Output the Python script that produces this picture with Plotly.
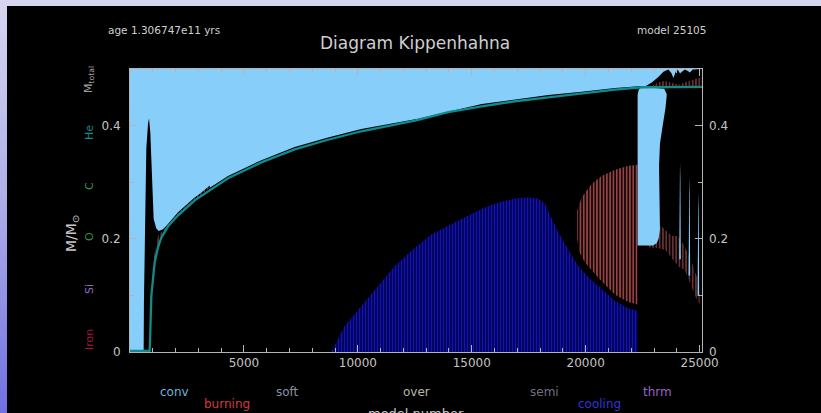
import plotly.graph_objects as go

# ---------------- data ----------------
M_TOTAL = 0.5
MODEL_MAX = 25105
AGE_TEXT = "age 1.306747e11 yrs"
MODEL_TEXT = "model 25105"

# He core boundary (teal line)
he_model = [0, 860, 880, 906, 936, 1010, 1082, 1229, 1375, 1670, 2100, 2840, 4300,
            5765, 7228, 8690, 10150, 12510, 13970, 15440, 16900, 18360, 19825,
            21290, 22460, 25105]
he_mass = [0.002, 0.002, 0.02, 0.058, 0.099, 0.129, 0.158, 0.185, 0.202, 0.222,
           0.241, 0.268, 0.307, 0.335, 0.358, 0.375, 0.390, 0.409, 0.4236, 0.434,
           0.443, 0.450, 0.457, 0.4637, 0.4678, 0.4685]

# lower boundary of the outer convective envelope
env_model = [0, 600, 612, 650, 673, 716, 790, 834, 892, 936, 980, 1039, 1156, 1258,
             1450, 1668, 2107, 2838, 4300, 5765, 7228, 8690, 10153, 12640, 15440,
             18360, 19825, 21290, 22460, 25105]
env_lower = [0.003, 0.003, 0.09, 0.22, 0.30, 0.359, 0.403, 0.413, 0.388, 0.329,
             0.270, 0.235, 0.218, 0.214, 0.217, 0.226, 0.247, 0.273, 0.311, 0.339,
             0.362, 0.379, 0.394, 0.412, 0.438, 0.454, 0.460, 0.4665, 0.470, 0.4705]

# H-shell burning band just above the He core
shell_model = [880, 1010, 1229, 1375, 1670, 2100, 2840, 3500]
shell_lo = [0.02, 0.129, 0.185, 0.202, 0.222, 0.241, 0.268, 0.290]
shell_hi = [0.06, 0.160, 0.205, 0.212, 0.225, 0.245, 0.272, 0.294]

# neutrino cooling region (upper edge, base at 0)
cool_model = [8840, 9420, 10150, 10885, 11620, 12350, 13240, 13970, 14700, 15440,
              16170, 16900, 17480, 17920, 18215, 18510, 18800, 19240, 19680, 20120,
              20550, 21290, 21870, 22280]
cool_top = [0.0, 0.046, 0.081, 0.117, 0.152, 0.179, 0.208, 0.223, 0.238, 0.253,
            0.264, 0.271, 0.273, 0.271, 0.261, 0.235, 0.211, 0.180, 0.152, 0.132,
            0.117, 0.090, 0.077, 0.073]

# He flash burning region
burn_model = [19630, 19820, 20260, 20700, 21290, 21870, 22280]
burn_top = [0.250, 0.273, 0.297, 0.311, 0.322, 0.329, 0.331]
burn_bot_model = [19630, 19700, 19970, 20550, 21290, 21870, 22280]
burn_bot = [0.200, 0.178, 0.158, 0.131, 0.101, 0.0885, 0.084]

# convective blob after the flash
blob_model = [22280, 22330, 22460, 23000, 23450, 23560, 23500, 23380, 23260, 23220,
              23250, 23260, 23200, 23115, 22950, 22280]
blob_mass = [0.455, 0.464, 0.468, 0.467, 0.465, 0.455, 0.430, 0.400, 0.368, 0.329,
             0.270, 0.217, 0.200, 0.192, 0.188, 0.188]

# non-convective bumps at the surface (top right)
bump_model = [22600, 22900, 23190, 23410, 23630, 23760, 23850, 23920, 23990, 24070,
              24140, 24250, 24360, 24500, 24570, 24700, 25105]
bump_mass = [0.469, 0.476, 0.486, 0.495, 0.499, 0.493, 0.484, 0.493, 0.499, 0.497,
             0.492, 0.496, 0.499, 0.496, 0.494, 0.499, 0.500]

# burning stripes under the bumps
sburn_model = [22950, 23200, 23500, 23800, 24100, 24400, 24700, 25105]
sburn_top = [0.471, 0.477, 0.479, 0.476, 0.472, 0.477, 0.481, 0.486]

# later burning patches below the blob
late_model_top = [22700, 23260, 23500, 23800, 24050, 24300, 24600, 24900, 25000]
late_top = [0.188, 0.225, 0.215, 0.205, 0.205, 0.190, 0.165, 0.130, 0.100]
late_model_bot = [25000, 24850, 24600, 24350, 24100, 23800, 23500, 23100, 22700]
late_bot = [0.085, 0.095, 0.120, 0.145, 0.150, 0.165, 0.180, 0.184, 0.185]

# thin convective spikes
spike_model = [24140, 24550, 24945]
spike_top = [0.335, 0.309, 0.282]
spike_bot = [0.164, 0.135, 0.099]
spike_halfwidth = 35

# axis ticks
x_ticks = [5000, 10000, 15000, 20000, 25000]
x_ticktext = ["5000", "10000", "15000", "20000", "25000"]
y_ticks = [0, 0.2, 0.4]
y_ticktext = ["0", "0.2", "0.4"]

# labels
left_labels = ["M<sub>total</sub>", "He", "C", "O", "Si", "Iron"]
left_colors = ["#a0a0a0", "#138c8c", "#3c9a50", "#2f8f4a", "#9a6ad0", "#a01838"]
bottom_labels = ["conv", "burning", "soft", "over", "semi", "cooling", "thrm"]
bottom_colors = ["#6cb4dc", "#d23c3c", "#8494a8", "#b8b8a8", "#70707c", "#3434d8", "#9464c8"]

# ---------------- layout geometry ----------------
PAGE_W, PAGE_H = 821, 413
OFF_X, OFF_Y = 7, 6                 # lavender page border
W, H = PAGE_W - OFF_X, PAGE_H - OFF_Y
# plot area in page pixels
PL, PR, PT, PB = 130, 702, 69, 352
L, R, T, B = PL - OFF_X, PR - OFF_X, PT - OFF_Y, PB - OFF_Y
FONT = "DejaVu Sans"
BLUE = "#87CEFA"
RED_PAT = dict(shape="|", size=3.3, solidity=0.35, fgcolor="#c86060",
               bgcolor="#160404", fillmode="replace")
LATE_PAT = dict(shape="|", size=3.3, solidity=0.3, fgcolor="#b05050",
                bgcolor="#000000", fillmode="replace")
COOL_PAT = dict(shape="|", size=3.0, solidity=0.45, fgcolor="#1414b8",
                bgcolor="#000048", fillmode="replace")


def px(xp):
    """page pixel x -> paper x"""
    return (xp - PL) / (PR - PL)


def py(yp):
    """page pixel y -> paper y"""
    return (PB - yp) / (PB - PT)


fig = go.Figure()


def poly(xs, ys, color=None, pattern=None):
    kw = dict(x=xs, y=ys, mode="lines", fill="toself", line=dict(width=0),
              hoverinfo="skip", showlegend=False)
    if pattern is not None:
        kw["fillpattern"] = pattern
        kw["fillcolor"] = "rgba(0,0,0,0)"
    else:
        kw["fillcolor"] = color
    fig.add_trace(go.Scatter(**kw))


# envelope convection
poly(env_model + [MODEL_MAX, 0], env_lower + [M_TOTAL, M_TOTAL], BLUE)
# shell burning band
poly(shell_model + shell_model[::-1], shell_hi + shell_lo[::-1], pattern=LATE_PAT)
# cooling region
poly(cool_model + [cool_model[-1], cool_model[0]], cool_top + [0, 0], pattern=COOL_PAT)
# flash burning region
poly(burn_model + burn_bot_model[::-1], burn_top + burn_bot[::-1], pattern=RED_PAT)
# later burning patches
poly(late_model_top + late_model_bot, late_top + late_bot, pattern=LATE_PAT)
# blob
poly(blob_model, blob_mass, BLUE)
# surface bumps (non-convective)
poly(bump_model + [MODEL_MAX, bump_model[0]], bump_mass + [he_mass[-1], he_mass[-1]], "#000000")
poly(sburn_model + [sburn_model[-1], sburn_model[0]], sburn_top + [he_mass[-1], he_mass[-1]],
     pattern=LATE_PAT)
# spikes
for m, t, b in zip(spike_model, spike_top, spike_bot):
    poly([m - spike_halfwidth, m - spike_halfwidth * 0.5, m, m + spike_halfwidth * 0.5,
          m + spike_halfwidth],
         [b, t - 0.03, t, t - 0.03, b], BLUE)

# He core line (on the right-hand axis so it is drawn)
fig.add_trace(go.Scatter(x=he_model, y=he_mass, mode="lines", yaxis="y2",
                         line=dict(color="#128a8a", width=2.3),
                         hoverinfo="skip", showlegend=False))

axis_col = "#b4b4b4"
tickfont = dict(family=FONT, size=12, color="#c4c4c4")

fig.update_layout(
    width=W, height=H,
    margin=dict(l=L, r=W - R, t=T, b=H - B, pad=0, autoexpand=False),
    paper_bgcolor="#000000",
    plot_bgcolor="#000000",
    showlegend=False,
    xaxis=dict(range=[0, MODEL_MAX], tickvals=x_ticks, ticktext=x_ticktext,
               ticks="inside", ticklen=7, automargin=False,
               tickcolor=axis_col, showline=True, linecolor=axis_col, linewidth=1,
               mirror="ticks", showgrid=False, zeroline=False, tickfont=tickfont,
               minor=dict(dtick=1000, ticklen=4, tickcolor=axis_col, ticks="inside",
                          showgrid=False)),
    yaxis=dict(range=[0, M_TOTAL], tickvals=y_ticks, ticktext=y_ticktext,
               ticks="inside", ticklen=7, tickcolor=axis_col, showline=True,
               linecolor=axis_col, linewidth=1, mirror="ticks", showgrid=False,
               zeroline=False, tickfont=tickfont, ticklabelstandoff=6, automargin=False,
               minor=dict(dtick=0.1, ticklen=4, tickcolor=axis_col, ticks="inside",
                          showgrid=False)),
    yaxis2=dict(range=[0, M_TOTAL], overlaying="y", side="right", tickvals=y_ticks,
                ticktext=y_ticktext, ticks="inside", ticklen=7, tickcolor=axis_col,
                showline=False, showgrid=False, zeroline=False, tickfont=tickfont,
                ticklabelstandoff=6, automargin=False,
                minor=dict(dtick=0.1, ticklen=4, tickcolor=axis_col, ticks="inside",
                           showgrid=False)),
)

ann = []
ann.append(dict(text="Diagram Kippenhahna", x=px(415), y=py(43), xref="paper", yref="paper",
                showarrow=False, font=dict(family=FONT, size=17, color="#cfcfcf"),
                xanchor="center", yanchor="middle"))
ann.append(dict(text=AGE_TEXT, x=px(106), y=py(30), xref="paper", yref="paper",
                showarrow=False, font=dict(family=FONT, size=10.5, color="#d0d0d0"),
                xanchor="left", yanchor="middle"))
ann.append(dict(text=MODEL_TEXT, x=px(708), y=py(30), xref="paper", yref="paper",
                showarrow=False, font=dict(family=FONT, size=10.5, color="#d0d0d0"),
                xanchor="right", yanchor="middle"))
ann.append(dict(text="M/M<sub>⊙</sub>", x=px(72), y=py(234), xref="paper", yref="paper",
                showarrow=False, textangle=-90,
                font=dict(family=FONT, size=14, color="#c8c8c8"),
                xanchor="center", yanchor="middle"))
left_y = [80, 133, 186, 237, 289, 340]
for t, c, yy in zip(left_labels, left_colors, left_y):
    ann.append(dict(text=t, x=px(89), y=py(yy), xref="paper", yref="paper",
                    showarrow=False, textangle=-90,
                    font=dict(family=FONT, size=11, color=c),
                    xanchor="center", yanchor="middle"))
bottom_xy = [(174, 392), (227, 404), (287, 392), (416, 392), (544, 392), (599, 404),
             (657, 392)]
for t, c, (xx, yy) in zip(bottom_labels, bottom_colors, bottom_xy):
    ann.append(dict(text=t, x=px(xx), y=py(yy), xref="paper", yref="paper",
                    showarrow=False, font=dict(family=FONT, size=12, color=c),
                    xanchor="center", yanchor="middle"))
ann.append(dict(text="model number", x=px(416), y=py(404), xref="paper", yref="paper",
                showarrow=False, font=dict(family=FONT, size=13, color="#c8c8c8"),
                xanchor="center", yanchor="top"))
fig.update_layout(annotations=ann)

gradient = "linear-gradient(to bottom, #d6d6f1 0px, #aeaee9 200px, #7070e2 413px)"
page_css = (
    f"var g='{gradient}';"
    "document.documentElement.style.background=g;"
    "document.documentElement.style.height='100%';"
    "document.body.style.background=g;"
    f"document.body.style.margin='{OFF_Y}px 0 0 {OFF_X}px';"
    "document.body.style.overflow='hidden';"
)
fig.write_html("out.html", post_script=page_css, config={"displayModeBar": False})
